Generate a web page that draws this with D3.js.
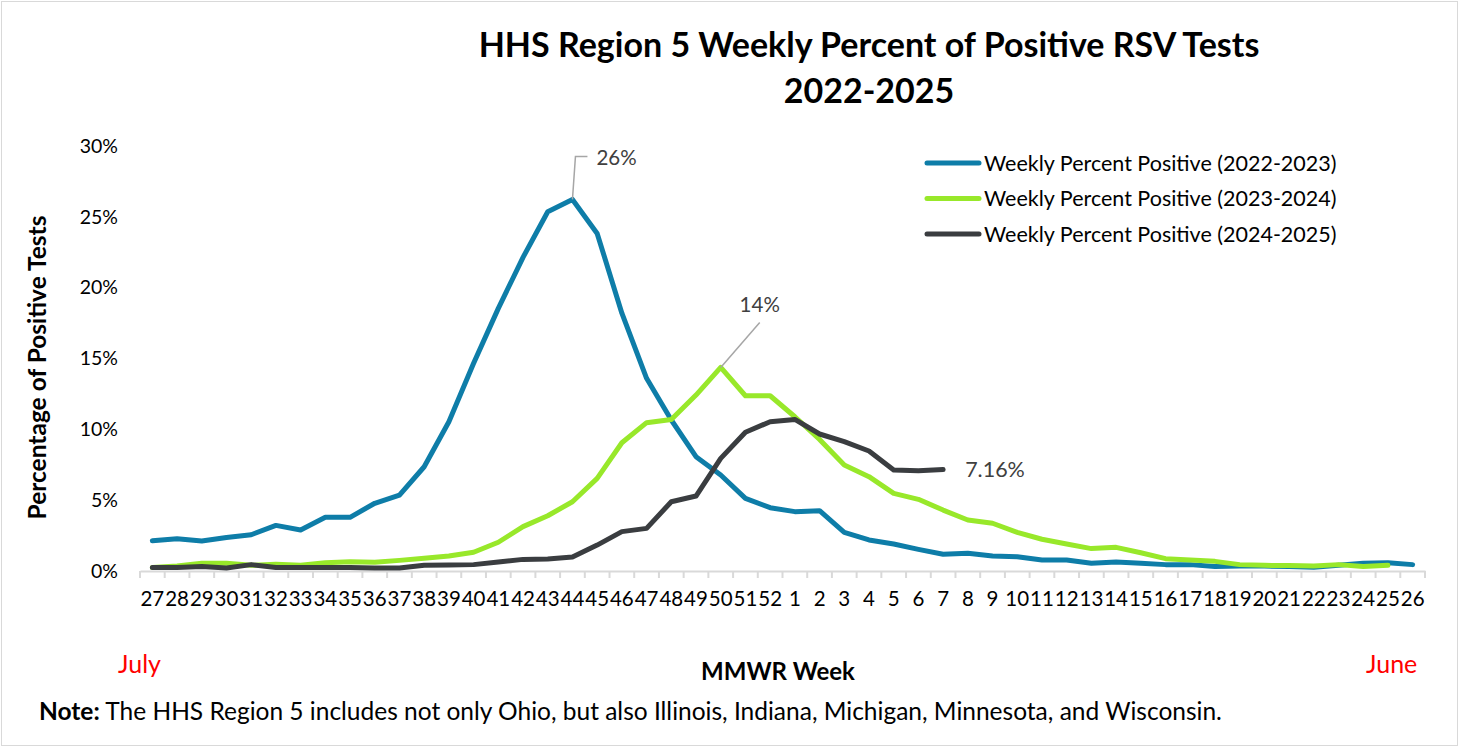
<!DOCTYPE html>
<html>
<head>
<meta charset="utf-8">
<script src="https://cdn.jsdelivr.net/npm/d3@7"></script>
<style>
  body { margin: 0; background: #fff; }
  svg { display: block; font-family: Lato, "Open Sans", sans-serif; }
</style>
</head>
<body>
<div id="chart"></div>
<script>
// MMWR weeks, July (27) through June (26)
const weeks = [27,28,29,30,31,32,33,34,35,36,37,38,39,40,41,42,43,44,45,46,47,48,49,50,51,52,
  1,2,3,4,5,6,7,8,9,10,11,12,13,14,15,16,17,18,19,20,21,22,23,24,25,26];

// Weekly percent positive, per season
const season2022 = [2.14,2.28,2.12,2.37,2.56,3.22,2.89,3.79,3.79,4.78,5.36,7.36,10.54,14.66,18.54,22.14,25.36,26.23,23.83,18.2,13.6,10.66,8.07,6.78,5.13,4.47,
  4.19,4.26,2.73,2.19,1.91,1.53,1.18,1.25,1.06,1.01,0.78,0.78,0.54,0.64,0.54,0.45,0.45,0.31,0.35,0.35,0.31,0.26,0.4,0.54,0.59,0.45];
const season2023 = [0.24,0.35,0.54,0.54,0.4,0.47,0.4,0.59,0.66,0.61,0.75,0.9,1.06,1.32,2.03,3.13,3.9,4.89,6.54,9.05,10.47,10.7,12.42,14.37,12.37,12.37,
  10.89,9.29,7.48,6.66,5.48,5.06,4.3,3.6,3.37,2.73,2.24,1.91,1.58,1.67,1.29,0.87,0.78,0.68,0.45,0.4,0.38,0.35,0.45,0.31,0.4];
const season2024 = [0.24,0.24,0.31,0.21,0.45,0.24,0.24,0.24,0.24,0.21,0.21,0.4,0.42,0.45,0.64,0.82,0.85,0.99,1.83,2.78,3.01,4.89,5.29,7.95,9.79,10.54,
  10.7,9.67,9.13,8.47,7.13,7.08,7.16];

const seriesNames = ["Weekly Percent Positive (2022-2023)", "Weekly Percent Positive (2023-2024)", "Weekly Percent Positive (2024-2025)"];
const seriesColors = ["#0E7DA8", "#98E82A", "#3A3D40"];
const yTicks = [0, 5, 10, 15, 20, 25, 30];

const width = 1461;
const height = 748;
const margin = { top: 146, right: 36, bottom: 177, left: 140 };

const svg = d3.select("#chart")
  .append("svg")
  .attr("width", width)
  .attr("height", height);

// Outer frame
svg.append("rect")
  .attr("x", 1.5).attr("y", 1.5)
  .attr("width", width - 5).attr("height", height - 4)
  .attr("fill", "#fff")
  .attr("stroke", "#d9d9d9");

// Scales
const x = d3.scaleBand()
  .domain(d3.range(weeks.length))
  .range([margin.left, width - margin.right]);

const y = d3.scaleLinear()
  .domain([0, 30])
  .range([height - margin.bottom, margin.top]);

// Title
const title = svg.append("text")
  .attr("x", 869).attr("y", 57)
  .attr("text-anchor", "middle")
  .attr("font-size", 34).attr("font-weight", "bold")
  .attr("fill", "#000");
title.append("tspan").attr("x", 869).text("HHS Region 5 Weekly Percent of Positive RSV Tests");
title.append("tspan").attr("x", 869).attr("dy", 46).text("2022-2025");

// Y axis (labels only)
const yAxis = svg.append("g")
  .attr("transform", `translate(${margin.left},0)`)
  .call(d3.axisLeft(y).tickValues(yTicks).tickFormat(d => d + "%").tickSize(0).tickPadding(22))
  .attr("font-size", 19.5)
  .attr("font-family", "Lato, sans-serif");
yAxis.select(".domain").remove();
yAxis.selectAll("text").attr("fill", "#000");

// X axis: gray baseline with ticks at band edges
const xAxis = svg.append("g")
  .attr("transform", `translate(0,${height - margin.bottom})`)
  .call(d3.axisBottom(x).tickFormat(i => weeks[i]).tickSize(0).tickPadding(20))
  .attr("font-size", 20.5)
  .attr("font-family", "Lato, sans-serif");
xAxis.select(".domain").attr("stroke", "#d9d9d9").attr("stroke-width", 2);
xAxis.selectAll("text").attr("fill", "#000");

svg.append("g")
  .selectAll("line")
  .data(d3.range(weeks.length + 1))
  .enter()
  .append("line")
  .attr("x1", i => margin.left + i * x.step())
  .attr("x2", i => margin.left + i * x.step())
  .attr("y1", height - margin.bottom)
  .attr("y2", height - margin.bottom + 7)
  .attr("stroke", "#d9d9d9")
  .attr("stroke-width", 2);

// Lines
const line = d3.line()
  .x((d, i) => x(i) + x.bandwidth() / 2)
  .y(d => y(d));

[season2022, season2023, season2024].forEach((data, k) => {
  svg.append("path")
    .datum(data)
    .attr("fill", "none")
    .attr("stroke", seriesColors[k])
    .attr("stroke-width", 5)
    .attr("stroke-linejoin", "round")
    .attr("stroke-linecap", "round")
    .attr("d", line);
});

// Data labels
const cx = i => x(i) + x.bandwidth() / 2;
const peak22 = d3.maxIndex(season2022);
const peak23 = d3.maxIndex(season2023);
const last24 = season2024.length - 1;

svg.append("path")
  .attr("d", `M${cx(peak22)},${y(season2022[peak22])} L${cx(peak22) + 3},${y(season2022[peak22]) - 43} h12`)
  .attr("fill", "none").attr("stroke", "#a6a6a6").attr("stroke-width", 1.5);
svg.append("text")
  .attr("x", cx(peak22) + 24).attr("y", y(season2022[peak22]) - 34)
  .attr("font-size", 20.5).attr("fill", "#404040")
  .text(Math.round(season2022[peak22]) + "%");

svg.append("path")
  .attr("d", `M${cx(peak23)},${y(season2023[peak23])} L${cx(peak23) + 39},${y(season2023[peak23]) - 45}`)
  .attr("fill", "none").attr("stroke", "#a6a6a6").attr("stroke-width", 1.5);
svg.append("text")
  .attr("x", cx(peak23) + 39).attr("y", y(season2023[peak23]) - 55)
  .attr("text-anchor", "middle")
  .attr("font-size", 20.5).attr("fill", "#404040")
  .text(Math.round(season2023[peak23]) + "%");

svg.append("text")
  .attr("x", cx(last24) + 22).attr("y", y(season2024[last24]) + 7)
  .attr("font-size", 21.5).attr("fill", "#404040")
  .text(season2024[last24].toFixed(2) + "%");

// Legend
const legend = svg.append("g").attr("transform", "translate(925,163)");
seriesNames.forEach((name, k) => {
  const g = legend.append("g").attr("transform", `translate(0,${k * 35.5})`);
  g.append("line")
    .attr("x1", 2).attr("x2", 54)
    .attr("stroke", seriesColors[k])
    .attr("stroke-width", 5)
    .attr("stroke-linecap", "round");
  g.append("text")
    .attr("x", 59).attr("y", 7.5)
    .attr("font-size", 21.5).attr("fill", "#000")
    .text(name);
});

// Axis titles and side notes
svg.append("text")
  .attr("transform", `translate(46,${(margin.top + height - margin.bottom) / 2 + 9}) rotate(-90)`)
  .attr("text-anchor", "middle")
  .attr("font-size", 24.5).attr("font-weight", "bold")
  .text("Percentage of Positive Tests");

svg.append("text")
  .attr("x", 778).attr("y", 680)
  .attr("text-anchor", "middle")
  .attr("font-size", 24).attr("font-weight", "bold")
  .text("MMWR Week");

svg.append("text")
  .attr("x", 118).attr("y", 673)
  .attr("font-size", 25).attr("fill", "#ff0000")
  .text("July");

svg.append("text")
  .attr("x", 1366).attr("y", 673)
  .attr("font-size", 25).attr("fill", "#ff0000")
  .text("June");

const note = svg.append("text")
  .attr("x", 39).attr("y", 720)
  .attr("font-size", 24.5).attr("fill", "#000");
note.append("tspan").attr("font-weight", "bold").text("Note:");
note.append("tspan").text(" The HHS Region 5 includes not only Ohio, but also Illinois, Indiana, Michigan, Minnesota, and Wisconsin.");
</script>
</body>
</html>
